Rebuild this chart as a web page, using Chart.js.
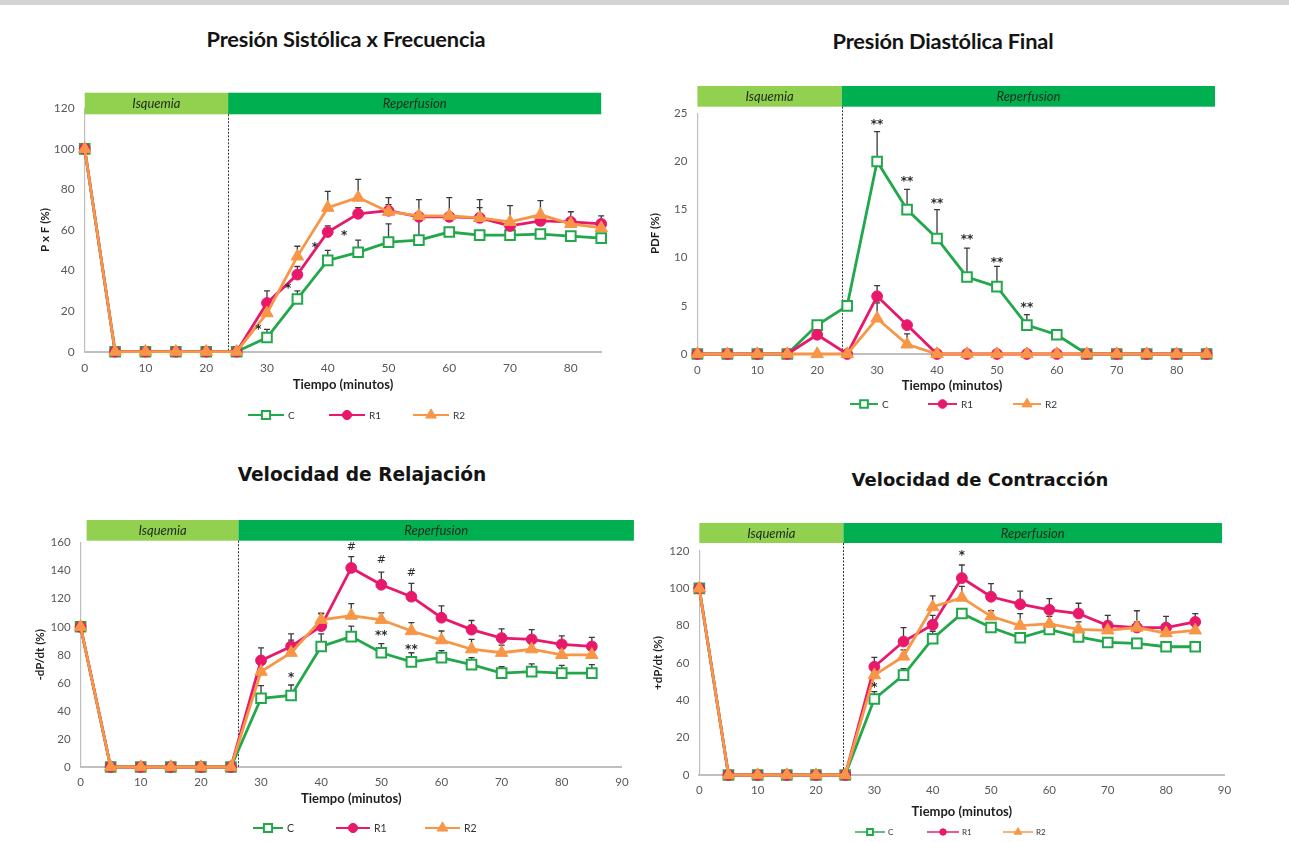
<!DOCTYPE html>
<html>
<head>
<meta charset="utf-8">
<script src="https://cdn.jsdelivr.net/npm/chart.js@4.4.1/dist/chart.umd.min.js"></script>
<style>
  html, body { margin: 0; padding: 0; background: #ffffff; }
  body { width: 1289px; height: 842px; position: relative; overflow: hidden; }
  .topbar { position: absolute; left: 0; top: 0; width: 1289px; height: 5px; background: #d3d4d6; }
  .title { position: absolute; font-weight: 700; color: #141414; white-space: nowrap; transform: translate(-50%, -50%); }
  canvas { position: absolute; }
</style>
</head>
<body>
<div class="topbar"></div>
<div class="title" style="left:346px;top:38px;font-family:Lato;font-size:21.8px;letter-spacing:-0.2px;">Presión Sistólica x Frecuencia</div>
<div class="title" style="left:943px;top:40px;font-family:Lato;font-size:21.8px;letter-spacing:-0.2px;">Presión Diastólica Final</div>
<div class="title" style="left:362px;top:474px;font-family:'DejaVu Sans';font-size:18.6px;">Velocidad de Relajación</div>
<div class="title" style="left:980px;top:479px;font-family:'DejaVu Sans';font-size:18px;">Velocidad de Contracción</div>
<canvas id="c1"></canvas>
<canvas id="c2"></canvas>
<canvas id="c3"></canvas>
<canvas id="c4"></canvas>
<script>
// ---- time base and labels ----
const minutes = [0, 5, 10, 15, 20, 25, 30, 35, 40, 45, 50, 55, 60, 65, 70, 75, 80, 85];
const groupNames = ['C', 'R1', 'R2'];
const phaseNames = ['Isquemia', 'Reperfusion'];
const timeTicks85 = [0, 10, 20, 30, 40, 50, 60, 70, 80];
const timeTicks90 = [0, 10, 20, 30, 40, 50, 60, 70, 80, 90];
const xAxisTitle = 'Tiempo (minutos)';

// ---- Presión sistólica x frecuencia (%) ----
const pxfC  = [100, 0, 0, 0, 0, 0, 7, 26, 45, 49, 54, 55, 59, 57.5, 57.5, 58, 57, 56];
const pxfR1 = [100, 0, 0, 0, 0, 0, 24, 38, 59, 68, 69.5, 66.5, 66.5, 66, 62, 64.5, 64, 63];
const pxfR2 = [100, 0, 0, 0, 0, 0, 19, 47, 71, 76, 69, 67, 67, 66, 64, 67.5, 63, 61];
const pxfErrC  = [null, null, null, null, null, null, 4, 4, 5, 6, 9, 10, null, null, null, null, null, null];
const pxfErrR1 = [null, null, null, null, null, null, 6, 4, 3, 3, 3, null, null, 5, null, null, null, 4];
const pxfErrR2 = [null, null, null, null, null, null, null, 5, 8, 9, 7, 8, 9, 9, 8, 7, 6, null];
const pxfTicks = [0, 20, 40, 60, 80, 100, 120];
const pxfMarks = [
  { x: 28.6, y: 12.3, text: '*' }, { x: 33.5, y: 32.4, text: '*' },
  { x: 37.9, y: 52.6, text: '*' }, { x: 42.7, y: 58.7, text: '*' }
];

// ---- Presión diastólica final (%) ----
const pdfC  = [0, 0, 0, 0, 3, 5, 20, 15, 12, 8, 7, 3, 2, 0, 0, 0, 0, 0];
const pdfR1 = [0, 0, 0, 0, 2, 0, 6, 3, 0, 0, 0, 0, 0, 0, 0, 0, 0, 0];
const pdfR2 = [0, 0, 0, 0, 0, 0, 3.7, 1, 0, 0, 0, 0, 0, 0, 0, 0, 0, 0];
const pdfErrC  = [null, null, null, null, null, null, 3.1, 2.1, 3, 3, 2.1, 1.1, 0.5, null, null, null, null, null];
const pdfErrR1 = [null, null, null, null, null, null, 1.1, null, null, null, null, null, null, null, null, null, null, null];
const pdfErrR2 = [null, null, null, null, null, null, 1.6, 1.1, null, null, null, null, null, null, null, null, null, null];
const pdfTicks = [0, 5, 10, 15, 20, 25];
const pdfMarks = [
  { x: 30, y: 24.1, text: '**' }, { x: 35, y: 18.2, text: '**' }, { x: 40, y: 15.9, text: '**' },
  { x: 45, y: 12.2, text: '**' }, { x: 50, y: 9.8, text: '**' }, { x: 55, y: 5.1, text: '**' }
];

// ---- Velocidad de relajación, -dP/dt (%) ----
const relC  = [100, 0, 0, 0, 0, 0, 49, 51, 86, 93, 81.5, 75, 78, 73, 67, 68, 67, 67];
const relR1 = [100, 0, 0, 0, 0, 0, 76, 86, 100.5, 142, 130, 121.5, 106.5, 98, 92, 91, 87.5, 86];
const relR2 = [100, 0, 0, 0, 0, 0, 68, 81.5, 105, 108, 105, 97, 90.5, 84, 81.5, 84, 80, 80];
const relErrC  = [null, null, null, null, null, null, 9, 7.5, 9, 7.5, 6.5, 6.5, 5, 5, 4.5, 5.5, 5.5, 6];
const relErrR1 = [null, null, null, null, null, null, 9, 9, 9, 8, 9, 9.5, 8.5, 6.5, 6.5, 7, 6, 6.5];
const relErrR2 = [null, null, null, null, null, null, null, 9, 4.5, 8.5, 5, 6, 6.5, 7, 5.5, 5, 5, 5];
const relTicks = [0, 20, 40, 60, 80, 100, 120, 140, 160];
const relMarks = [
  { x: 45, y: 157, text: '#' }, { x: 50, y: 147.7, text: '#' }, { x: 55, y: 138.6, text: '#' },
  { x: 35, y: 65.6, text: '*' }, { x: 50, y: 95.4, text: '**' }, { x: 55, y: 85.8, text: '**' }
];

// ---- Velocidad de contracción, +dP/dt (%) ----
const conC  = [100, 0, 0, 0, 0, 0, 40.7, 53.5, 73, 86.5, 79, 73.5, 78, 74, 71, 70.5, 68.7, 68.7];
const conR1 = [100, 0, 0, 0, 0, 0, 58, 71.5, 80.5, 105.5, 95.5, 91.5, 88.5, 86.5, 80, 79, 79, 82];
const conR2 = [100, 0, 0, 0, 0, 0, 53.5, 63.5, 90, 95, 85, 80, 81, 78, 77.5, 79, 76, 77.5];
const conErrC  = [null, null, null, null, null, null, 4, 3.5, 4, null, null, null, null, null, null, null, null, null];
const conErrR1 = [null, null, null, null, null, null, 5, 7.5, 5, 7, 7, 7, 6, 5.5, 5.5, 9, 6, 4.5];
const conErrR2 = [null, null, null, null, null, null, null, 3.5, 6, 6, 3, 6.5, 4, 4, 3, 3, 3, 3];
const conTicks = [0, 20, 40, 60, 80, 100, 120];
const conMarks = [{ x: 45, y: 118.8, text: '*' }, { x: 30, y: 48.2, text: '*' }];

// ---- shared look ----
const groupStyles = [
  { color: '#22a84a', fill: '#ffffff', pointStyle: 'rect', radius: 6.8, pointBorder: 2, order: 3 },
  { color: '#e8196b', fill: '#e8196b', pointStyle: 'circle', radius: 5.4, pointBorder: 1, order: 2 },
  { color: '#f79646', fill: '#f79646', pointStyle: 'triangle', radius: 7.2, pointBorder: 1, order: 1 }
];
const tickColor = '#595959';
const axisColor = '#bfbfbf';

// phase banner across the top of the plot, with the dashed boundary line
const phaseBannerPlugin = {
  id: 'phaseBanner',
  beforeDatasetsDraw(chart, args, o) {
    const { ctx, chartArea } = chart;
    const xs = chart.scales.x;
    const x0 = xs.getPixelForValue(o.from);
    const xm = xs.getPixelForValue(o.split);
    const x1 = xs.getPixelForValue(o.to);
    const top = chartArea.top + o.top;
    const bot = chartArea.top + o.bottom;
    ctx.save();
    ctx.fillStyle = '#92d050';
    ctx.fillRect(x0, top, xm - x0, bot - top);
    ctx.fillStyle = '#00b050';
    ctx.fillRect(xm, top, x1 - xm, bot - top);
    ctx.fillStyle = '#1b2a1b';
    ctx.font = 'italic ' + o.fontSize + 'px Lato';
    ctx.textAlign = 'center';
    ctx.textBaseline = 'middle';
    ctx.fillText(phaseNames[0], (x0 + xm) / 2, (top + bot) / 2 + 0.5);
    ctx.fillText(phaseNames[1], (xm + x1) / 2, (top + bot) / 2 + 0.5);
    ctx.strokeStyle = '#333333';
    ctx.lineWidth = 1;
    ctx.setLineDash([2, 1.5]);
    ctx.beginPath();
    ctx.moveTo(Math.round(xm) + 0.5, bot);
    ctx.lineTo(Math.round(xm) + 0.5, chartArea.bottom);
    ctx.stroke();
    ctx.restore();
  }
};

// upper error bars, drawn under the lines and markers
const errorBarPlugin = {
  id: 'errorBars',
  beforeDatasetsDraw(chart) {
    const { ctx } = chart;
    const ys = chart.scales.y;
    ctx.save();
    ctx.strokeStyle = '#3a3a3a';
    ctx.lineWidth = 1.3;
    chart.data.datasets.forEach((ds, di) => {
      const meta = chart.getDatasetMeta(di);
      (ds.errorUp || []).forEach((e, i) => {
        if (e == null) return;
        const pt = meta.data[i];
        const v = ds.data[i].y;
        const yTop = ys.getPixelForValue(v + e);
        ctx.beginPath();
        ctx.moveTo(pt.x, pt.y);
        ctx.lineTo(pt.x, yTop);
        ctx.moveTo(pt.x - 3, yTop);
        ctx.lineTo(pt.x + 3, yTop);
        ctx.stroke();
      });
    });
    ctx.restore();
  }
};

// significance marks placed in data coordinates
const marksPlugin = {
  id: 'sigMarks',
  afterDatasetsDraw(chart, args, o) {
    const { ctx } = chart;
    const xs = chart.scales.x, ys = chart.scales.y;
    ctx.save();
    ctx.fillStyle = '#2b2b2b';
    ctx.textAlign = 'center';
    ctx.textBaseline = 'middle';
    (o.items || []).forEach(m => {
      ctx.font = (m.text === '#' ? '11px' : 'bold 12px') + ' "DejaVu Sans"';
      const dy = m.text === '#' ? 0 : 3;
      ctx.fillText(m.text, xs.getPixelForValue(m.x), ys.getPixelForValue(m.y) + dy);
    });
    ctx.restore();
  }
};

// legend row: line with marker, then group name
const lineLegendPlugin = {
  id: 'lineLegend',
  afterDraw(chart, args, o) {
    const { ctx } = chart;
    const H = Chart.helpers;
    ctx.save();
    chart.data.datasets.forEach((ds, i) => {
      const it = o.items[i];
      const st = groupStyles[i];
      const x = it.x - o.originX, y = o.y - o.originY;
      ctx.strokeStyle = st.color;
      ctx.lineWidth = 2.4 * o.scale;
      ctx.beginPath();
      ctx.moveTo(x, y);
      ctx.lineTo(x + it.len, y);
      ctx.stroke();
      ctx.fillStyle = st.fill;
      ctx.strokeStyle = st.color;
      ctx.lineWidth = st.pointBorder;
      H.drawPoint(ctx, { pointStyle: st.pointStyle, radius: st.radius * o.scale, borderWidth: st.pointBorder, rotation: 0 }, x + it.len / 2, y);
      ctx.fillStyle = '#333333';
      ctx.font = o.fontSize + 'px Lato';
      ctx.textAlign = 'left';
      ctx.textBaseline = 'middle';
      ctx.fillText(ds.label, x + it.len + o.gap, y + 0.5);
    });
    ctx.restore();
  }
};

function buildPanel(p) {
  const cv = document.getElementById(p.id);
  cv.width = p.box.w; cv.height = p.box.h;
  cv.style.left = p.box.x + 'px'; cv.style.top = p.box.y + 'px';
  cv.style.width = p.box.w + 'px'; cv.style.height = p.box.h + 'px';
  const pad = {
    left: p.area.l - p.box.x - p.yW,
    top: p.area.t - p.box.y,
    right: p.box.x + p.box.w - p.area.r,
    bottom: p.box.y + p.box.h - p.area.b - p.xH
  };
  const datasets = p.series.map((vals, i) => {
    const st = groupStyles[i];
    return {
      label: groupNames[i],
      data: minutes.map((m, j) => ({ x: m, y: vals[j] })),
      errorUp: p.errors[i],
      borderColor: st.color,
      backgroundColor: st.fill,
      borderWidth: 2.8,
      tension: 0,
      pointStyle: st.pointStyle,
      pointRadius: st.radius,
      pointHoverRadius: st.radius,
      pointBackgroundColor: st.fill,
      pointBorderColor: st.color,
      pointBorderWidth: st.pointBorder,
      order: st.order,
      clip: false
    };
  });
  return new Chart(cv, {
    type: 'line',
    data: { datasets },
    plugins: [phaseBannerPlugin, errorBarPlugin, marksPlugin, lineLegendPlugin],
    options: {
      responsive: false,
      animation: false,
      layout: { padding: pad },
      plugins: {
        legend: { display: false },
        tooltip: { enabled: false },
        phaseBanner: p.banner,
        sigMarks: { items: p.marks },
        lineLegend: Object.assign({ originX: p.box.x, originY: p.box.y }, p.legend)
      },
      scales: {
        x: {
          type: 'linear', min: 0, max: p.xMax,
          afterBuildTicks: s => { s.ticks = p.xTicks.map(v => ({ value: v })); },
          afterFit: s => { s.height = p.xH; },
          grid: { display: false, drawTicks: false },
          border: { display: true, color: axisColor, width: 2 },
          ticks: { color: tickColor, padding: p.xTickPad, maxRotation: 0, font: { family: 'Lato', size: p.tickSize } },
          title: { display: true, text: xAxisTitle, color: '#1e1e1e', padding: 0, font: { family: 'Lato', size: 13, weight: 'bold' } }
        },
        y: {
          type: 'linear', min: 0, max: p.yTicks[p.yTicks.length - 1],
          afterBuildTicks: s => { s.ticks = p.yTicks.map(v => ({ value: v })); },
          afterFit: s => { s.width = p.yW; },
          grid: { display: false, drawTicks: false },
          border: { display: true, color: axisColor, width: 1.2 },
          ticks: { color: tickColor, padding: 10, font: { family: 'Lato', size: p.tickSize } },
          title: { display: true, text: p.yTitle, color: '#1e1e1e', padding: 0, font: { family: 'Lato', size: 11.5, weight: 'bold' } }
        }
      }
    }
  });
}

buildPanel({
  id: 'c1', box: { x: 0, y: 60, w: 640, h: 380 },
  area: { l: 84.7, t: 108.3, r: 601.2, b: 351.7 }, yW: 46.3, xH: 40.5,
  xMax: 85, xTicks: timeTicks85, yTicks: pxfTicks, yTitle: 'P x F (%)',
  series: [pxfC, pxfR1, pxfR2], errors: [pxfErrC, pxfErrR1, pxfErrR2], marks: pxfMarks,
  tickSize: 12, xTickPad: 9,
  banner: { from: 0, split: 23.6, to: 85, top: -15.6, bottom: 6, fontSize: 13 },
  legend: { y: 415, scale: 0.85, gap: 4, fontSize: 10, items: [{ x: 248, len: 36 }, { x: 329, len: 36 }, { x: 413, len: 36 }] }
});
buildPanel({
  id: 'c2', box: { x: 640, y: 60, w: 640, h: 380 },
  area: { l: 697.4, t: 113.3, r: 1206.6, b: 354 }, yW: 49, xH: 39.2,
  xMax: 85, xTicks: timeTicks85, yTicks: pdfTicks, yTitle: 'PDF (%)',
  series: [pdfC, pdfR1, pdfR2], errors: [pdfErrC, pdfErrR1, pdfErrR2], marks: pdfMarks,
  tickSize: 11.5, xTickPad: 9,
  banner: { from: 0, split: 24.1, to: 86.4, top: -27.3, bottom: -6.6, fontSize: 13 },
  legend: { y: 404, scale: 0.8, gap: 4, fontSize: 10, items: [{ x: 850, len: 28 }, { x: 928, len: 29 }, { x: 1013, len: 28 }] }
});
buildPanel({
  id: 'c3', box: { x: 0, y: 490, w: 640, h: 352 },
  area: { l: 80.6, t: 542.7, r: 621.9, b: 767 }, yW: 47.2, xH: 39.2,
  xMax: 90, xTicks: timeTicks90, yTicks: relTicks, yTitle: '-dP/dt (%)',
  series: [relC, relR1, relR2], errors: [relErrC, relErrR1, relErrR2], marks: relMarks,
  tickSize: 11.5, xTickPad: 8,
  banner: { from: 1, split: 26.25, to: 92, top: -22.7, bottom: -2, fontSize: 13 },
  legend: { y: 828, scale: 0.85, gap: 4, fontSize: 10.5, items: [{ x: 253, len: 30 }, { x: 336, len: 34 }, { x: 425, len: 35 }] }
});
buildPanel({
  id: 'c4', box: { x: 640, y: 490, w: 640, h: 352 },
  area: { l: 699.3, t: 551, r: 1224.4, b: 775 }, yW: 47.9, xH: 44.2,
  xMax: 90, xTicks: timeTicks90, yTicks: conTicks, yTitle: '+dP/dt (%)',
  series: [conC, conR1, conR2], errors: [conErrC, conErrR1, conErrR2], marks: conMarks,
  tickSize: 11.5, xTickPad: 8,
  banner: { from: 0, split: 24.7, to: 89.6, top: -28, bottom: -8, fontSize: 13 },
  legend: { y: 832, scale: 0.6, gap: 3, fontSize: 8, items: [{ x: 855, len: 30 }, { x: 927, len: 32 }, { x: 1003, len: 30 }] }
});
</script>
</body>
</html>
